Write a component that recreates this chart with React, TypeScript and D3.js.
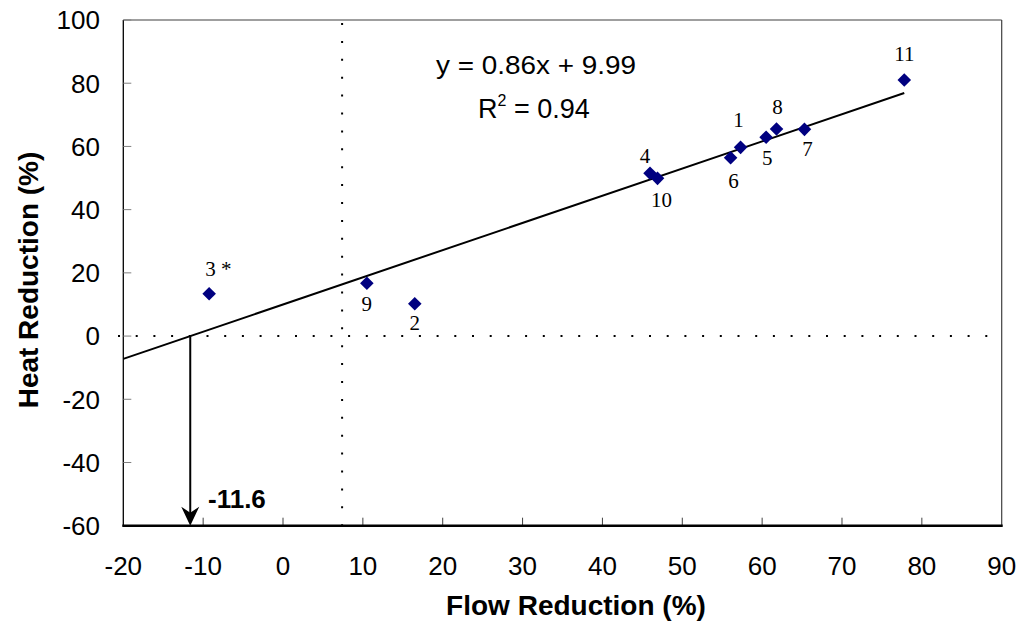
import React from "react";
import * as d3 from "d3";

const pointLabels = ["1", "2", "3 *", "4", "5", "6", "7", "8", "9", "10", "11"];
const flowReduction = [57.3, 16.5, -9.25, 45.96, 60.5, 56.05, 65.3, 61.8, 10.5, 46.9, 77.8];
const heatReduction = [59.7, 10.2, 13.4, 51.5, 62.9, 56.4, 65.4, 65.5, 16.7, 49.9, 81.0];
const xTicks = [-20, -10, 0, 10, 20, 30, 40, 50, 60, 70, 80, 90];
const yTicks = [-60, -40, -20, 0, 20, 40, 60, 80, 100];
const slope = 0.86;
const intercept = 9.99;
const rSquared = 0.94;
const verticalRef = 7.4;
const fitXMin = -20;
const fitXMax = 77.8;

// label offsets (px) relative to markers: [dx, dy, anchor]
const labelOffsets: [number, number, string][] = [
  [-2, -20, "middle"],
  [0, 26, "middle"],
  [-4, -18, "start"],
  [-5, -10, "middle"],
  [1, 28, "middle"],
  [3, 30, "middle"],
  [3, 27, "middle"],
  [1, -15, "middle"],
  [0, 28, "middle"],
  [4, 29, "middle"],
  [0, -19, "middle"],
];

export default function App() {
  const W = 1023, H = 627;
  const left = 123.3, right = 1001.7, top = 20, bottom = 525.7;
  const x = d3.scaleLinear().domain([-20, 90]).range([left, right]);
  const y = d3.scaleLinear().domain([-60, 100]).range([bottom, top]);
  const sans = "Arial, 'Liberation Sans', Helvetica, sans-serif";
  const serif = "'Times New Roman', 'Liberation Serif', serif";
  const xInt = -intercept / slope;
  const ax = x(xInt);
  const tipY = y(-60);
  const diamond = d3.symbol().type(d3.symbolSquare).size(92)();

  return (
    <svg width={W} height={H} style={{ position: "absolute", left: 0, top: 0, background: "#fff" }}>
      <rect x={0} y={0} width={W} height={H} fill="#fff" />
      {/* border */}
      <line x1={left} y1={top} x2={right} y2={top} stroke="#404040" strokeWidth={1.2} />
      <line x1={right} y1={top} x2={right} y2={bottom} stroke="#404040" strokeWidth={1.2} />
      <line x1={left} y1={top} x2={left} y2={bottom} stroke="#000" strokeWidth={1.3} />
      {/* dotted reference lines */}
      <line x1={118} y1={y(0)} x2={right} y2={y(0)} stroke="#000" strokeWidth={2} strokeDasharray="2,15.7" />
      <line x1={x(verticalRef)} y1={top + 3} x2={x(verticalRef)} y2={bottom} stroke="#000" strokeWidth={2} strokeDasharray="2,15.9" />
      {/* y ticks */}
      {yTicks.map((t) => (
        <g key={"y" + t}>
          <line x1={left} x2={left + 8} y1={y(t)} y2={y(t)} stroke="#808080" strokeWidth={1} />
          <text x={100} y={y(t)} dy="0.36em" textAnchor="end" fontFamily={sans} fontSize={26} fill="#000">
            {t}
          </text>
        </g>
      ))}
      {/* x ticks */}
      {xTicks.map((t) => (
        <g key={"x" + t}>
          {t > -20 && t < 90 && (
            <line x1={x(t)} x2={x(t)} y1={bottom} y2={bottom - 8} stroke="#404040" strokeWidth={1} />
          )}
          <text x={x(t)} y={566} dy="0.36em" textAnchor="middle" fontFamily={sans} fontSize={26} fill="#000">
            {t}
          </text>
        </g>
      ))}
      <line x1={left - 1} y1={bottom} x2={right + 1} y2={bottom} stroke="#000" strokeWidth={2.5} />
      {/* regression line */}
      <line
        x1={x(fitXMin)}
        y1={y(slope * fitXMin + intercept)}
        x2={x(fitXMax)}
        y2={y(slope * fitXMax + intercept)}
        stroke="#000"
        strokeWidth={2}
      />
      {/* arrow */}
      <line x1={ax} y1={y(0)} x2={ax} y2={tipY - 8} stroke="#000" strokeWidth={2} />
      <path d={`M${ax},${tipY} L${ax - 9},${tipY - 19} L${ax},${tipY - 13} L${ax + 9},${tipY - 19} Z`} fill="#000" />
      <text x={208} y={508} fontFamily={sans} fontWeight="bold" fontSize={26} fill="#000">
        {xInt.toFixed(1)}
      </text>
      {/* points */}
      {flowReduction.map((fx, i) => (
        <path
          key={"p" + i}
          d={diamond!}
          transform={`translate(${x(fx)},${y(heatReduction[i])}) rotate(45)`}
          fill="#000080"
        />
      ))}
      {flowReduction.map((fx, i) => (
        <text
          key={"l" + i}
          x={x(fx) + labelOffsets[i][0]}
          y={y(heatReduction[i]) + labelOffsets[i][1]}
          textAnchor={labelOffsets[i][2] as any}
          fontFamily={serif}
          fontSize={21}
          fill="#000"
        >
          {pointLabels[i]}
        </text>
      ))}
      {/* equation */}
      <text
        x={436}
        y={74}
        fontFamily={sans}
        fontSize={26}
        fill="#000"
        textLength={200}
        lengthAdjust="spacingAndGlyphs"
      >
        {`y = ${slope}x + ${intercept}`}
      </text>
      <text x={478} y={118} fontFamily={sans} fontSize={27} fill="#000">
        R<tspan dy={-12} fontSize={16}>2</tspan>
        <tspan dy={12}>{` = ${rSquared}`}</tspan>
      </text>
      {/* axis titles */}
      <text x={576} y={615} textAnchor="middle" fontFamily={sans} fontWeight="bold" fontSize={28} fill="#000">
        Flow Reduction (%)
      </text>
      <text
        transform={`translate(38,280) rotate(-90)`}
        textAnchor="middle"
        fontFamily={sans}
        fontWeight="bold"
        fontSize={28}
        fill="#000"
      >
        Heat Reduction (%)
      </text>
    </svg>
  );
}
